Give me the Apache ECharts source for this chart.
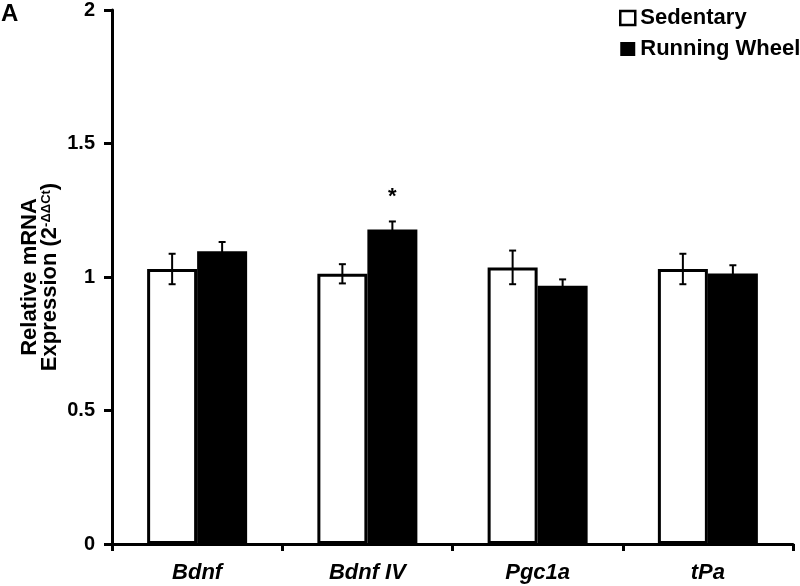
<!DOCTYPE html>
<html>
<head>
<meta charset="utf-8">
<script src="https://cdn.jsdelivr.net/npm/echarts@6/dist/echarts.min.js"></script>
<style>
html,body{margin:0;padding:0;background:#fff;}
#main{width:800px;height:586px;}
</style>
</head>
<body>
<div id="main"></div>
<script>
const categories = ['Bdnf', 'Bdnf IV', 'Pgc1a', 'tPa'];
const sedentary = [1.03, 1.012, 1.036, 1.03];
const sedentaryErr = [0.057, 0.036, 0.063, 0.057];
const running = [1.096, 1.178, 0.967, 1.013];
const runningErr = [0.035, 0.03, 0.024, 0.031];
const significance = ['', '*', '', ''];
const yTicks = [0, 0.5, 1, 1.5, 2];

const FONT = '"Liberation Sans", Arial, Helvetica, sans-serif';
const BAR_W = 50;

function errData(vals, errs, side) {
  return vals.map((v, i) => [i, v, errs[i], side]);
}

function renderErr(params, api) {
  const idx = api.value(0);
  const v = api.value(1);
  const e = api.value(2);
  const side = api.value(3);
  const c = api.coord([idx, v]);
  const hi = api.coord([idx, v + e]);
  const lo = api.coord([idx, v - e]);
  const x = c[0] + side * BAR_W / 2;
  const cap = 3.5;
  const st = { stroke: '#000', lineWidth: 2 };
  return {
    type: 'group',
    children: [
      { type: 'line', shape: { x1: x, y1: hi[1], x2: x, y2: lo[1] }, style: st },
      { type: 'line', shape: { x1: x - cap, y1: hi[1], x2: x + cap, y2: hi[1] }, style: st },
      { type: 'line', shape: { x1: x - cap, y1: lo[1], x2: x + cap, y2: lo[1] }, style: st }
    ]
  };
}

const chart = echarts.init(document.getElementById('main'), null, { renderer: 'canvas' });
chart.setOption({
  backgroundColor: '#fff',
  animation: false,
  textStyle: { fontFamily: FONT },
  title: {
    text: 'A', left: 1, top: 2, padding: 0,
    textStyle: { fontFamily: FONT, fontSize: 24, fontWeight: 'bold', color: '#000' }
  },
  legend: {
    orient: 'vertical',
    left: 619, top: 7, padding: 0,
    itemWidth: 15, itemHeight: 14, itemGap: 9,
    icon: 'rect',
    textStyle: { fontFamily: FONT, fontSize: 22, fontWeight: 'bold', color: '#000' },
    data: [
      { name: 'Sedentary', itemStyle: { color: '#fff', borderColor: '#000', borderWidth: 2.5 } },
      { name: 'Running Wheel', itemStyle: { color: '#000', borderWidth: 0 } }
    ]
  },
  grid: { left: 112, right: 7, top: 8, bottom: 42, containLabel: false },
  xAxis: {
    type: 'category',
    data: categories,
    axisLine: { lineStyle: { color: '#000', width: 3 } },
    axisTick: { show: true, length: 7, lineStyle: { color: '#000', width: 3 } },
    axisLabel: { fontFamily: FONT, fontSize: 22, fontWeight: 'bold', fontStyle: 'italic', color: '#000', margin: 18 },
    splitLine: { show: false }
  },
  yAxis: {
    type: 'value',
    min: yTicks[0], max: yTicks[yTicks.length - 1], interval: 0.5,
    axisLine: { show: true, lineStyle: { color: '#000', width: 3 } },
    axisTick: { show: true, length: 8, lineStyle: { color: '#000', width: 3 } },
    axisLabel: { fontFamily: FONT, fontSize: 20, fontWeight: 'bold', color: '#000', margin: 17 },
    splitLine: { show: false },
    name: '{a|Relative mRNA}\n{a|Expression (2}{sup|-ΔΔCt}{a|)}',
    nameLocation: 'middle',
    nameGap: 52,
    nameMoveOverlap: false,
    nameRotate: 90,
    nameTextStyle: {
      rich: {
        a: { fontFamily: FONT, fontSize: 22, fontWeight: 'bold', color: '#000', lineHeight: 20 },
        sup: { fontFamily: FONT, fontSize: 13, fontWeight: 'bold', color: '#000', verticalAlign: 'top', lineHeight: 20 }
      }
    }
  },
  series: [
    {
      name: 'Sedentary', type: 'bar', data: sedentary, barWidth: BAR_W, barGap: '0%',
      itemStyle: { color: '#fff', borderColor: '#000', borderWidth: 3 }
    },
    {
      name: 'Running Wheel', type: 'bar', data: running, barWidth: BAR_W, barGap: '0%',
      itemStyle: { color: '#000', borderColor: '#000', borderWidth: 0 },
      label: {
        show: true, position: 'top', distance: 22,
        formatter: p => significance[p.dataIndex],
        fontFamily: FONT, fontSize: 22, fontWeight: 'bold', color: '#000'
      }
    },
    {
      type: 'custom', renderItem: renderErr, data: errData(sedentary, sedentaryErr, -1),
      encode: { x: 0, y: 1 }, z: 5, silent: true
    },
    {
      type: 'custom', renderItem: renderErr, data: errData(running, runningErr, 1),
      encode: { x: 0, y: 1 }, z: 5, silent: true
    }
  ]
});
</script>
</body>
</html>
